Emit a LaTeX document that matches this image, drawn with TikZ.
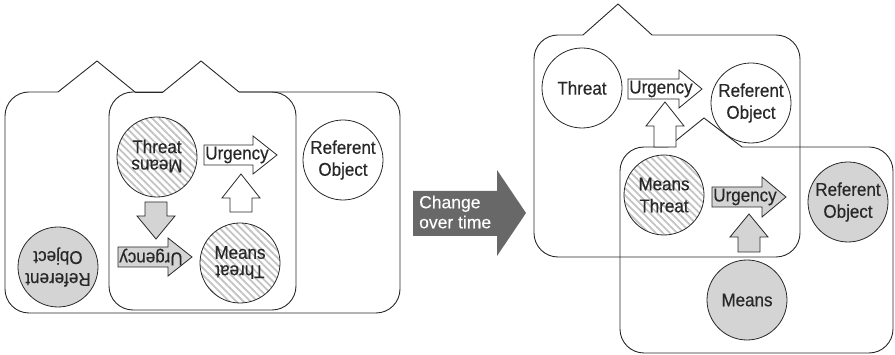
\documentclass[tikz,border=0pt]{standalone}
\usepackage{fontspec}
\setmainfont{Liberation Sans}[FakeStretch=0.92,FakeBold=0.35]
\newfontfamily\plainsans{Liberation Sans}[FakeBold=0.25]
\usetikzlibrary{patterns.meta}
\definecolor{lgrey}{RGB}{212,212,212}
\definecolor{dgrey}{RGB}{104,104,104}
\definecolor{ink}{RGB}{40,40,40}
\definecolor{hatch}{RGB}{196,196,196}
\newcommand\rblock[7]{\draw[#7] ({#1},{#4-#5}) -- ({#2},{#4-#5}) -- ({#2},{#4-#6}) -- ({#3},{#4}) -- ({#2},{#4+#6}) -- ({#2},{#4+#5}) -- ({#1},{#4+#5}) -- cycle;}
\newcommand\vblock[7]{\draw[#7] ({#1-#5},{#2}) -- ({#1-#5},{#3}) -- ({#1-#6},{#3}) -- ({#1},{#4}) -- ({#1+#6},{#3}) -- ({#1+#5},{#3}) -- ({#1+#5},{#2}) -- cycle;}
\begin{document}
\begin{tikzpicture}[x=1pt,y=-1pt,
  boxline/.style={draw=ink, line width=0.9pt, rounded corners=24pt},
  roofline/.style={draw=ink, line width=0.9pt, line join=miter},
  circ/.style={circle, draw=ink, line width=0.8pt, minimum size=80pt, inner sep=0pt, fill=white},
  greycirc/.style={circle, draw=ink, line width=0.8pt, minimum size=80pt, inner sep=0pt, fill=lgrey},
  hatchcirc/.style={circle, draw=ink, line width=0.8pt, minimum size=80pt, inner sep=0pt,
     preaction={fill=white}, pattern={Lines[angle=-45,distance=5pt,line width=1.8pt]}, pattern color=hatch},
  lbl/.style={font=\fontsize{18.5}{22}\selectfont, text=ink, align=center, inner sep=0pt},
  warrow/.style={draw=ink, line width=0.8pt, fill=white, line join=miter},
  garrow/.style={draw=ink, line width=0.8pt, fill=lgrey, line join=miter},
  bigarrow/.style={fill=dgrey, draw=none},
]
\useasboundingbox (0,0) rectangle (895,355);

% ---------------- left panel ----------------
\draw[boxline] (58,92) -- (5,92) -- (5,313) -- (400,313) -- (400,92) -- (239,92);
\draw[roofline] (135,92) -- (163,92);
\draw[roofline] (58,92) -- (97,61) -- (135,92);
\draw[boxline] (163,92) -- (109,92) -- (109,310) -- (296,310) -- (296,92) -- (239,92);
\draw[roofline] (163,92) -- (201,61) -- (239,92);

\node[hatchcirc] (tmA) at (157,157) {};
\node[lbl] (tmAt) at ([yshift=10.5pt]tmA.center) {Threat};
\node[lbl, rotate=180] (tmAm) at ([yshift=-9pt]tmA.center) {Means};

\rblock{204}{253}{277}{155}{10}{19}{warrow}
\node[lbl] (uA) at (237,155) {Urgency};

\vblock{241}{212}{198}{174}{11}{19}{warrow}
\vblock{156}{202}{216}{239}{11}{19}{garrow}

\rblock{118}{168}{192}{257}{10}{19}{garrow}
\node[lbl, rotate=180] (uB) at (151,257) {Urgency};

\node[hatchcirc] (mtA) at (240,263) {};
\node[lbl] (mtAm) at ([yshift=10.5pt]mtA.center) {Means};
\node[lbl, rotate=180] (mtAt) at ([yshift=-9pt]mtA.center) {Threat};

\node[greycirc] (roA) at (58,267) {};
\node[lbl, rotate=180] (roAt) at (roA.center) {Referent\\Object};

\node[circ] (roB) at (343,160) {};
\node[lbl] (roBt) at (roB.center) {Referent\\Object};

% ---------------- middle arrow ----------------
\draw[bigarrow] (413,191) -- (497,191) -- (497,170) -- (526,213) -- (497,256) -- (497,236) -- (413,236) -- cycle;
\node[font=\plainsans\fontsize{17.5}{20}\selectfont, text=white, align=left, anchor=west, inner sep=0pt] (chg) at (419,212) {Change\\over time};

% ---------------- right panel ----------------
\draw[boxline] (583,35) -- (534,35) -- (534,257) -- (800,257) -- (800,35) -- (652,35);
\draw[roofline] (583,35) -- (618,4) -- (652,35);
\draw[boxline] (668,147) -- (620,147) -- (620,353) -- (893,353) -- (893,147) -- (742,147);
\draw[roofline] (668,147) -- (704,118) -- (742,147);

\node[circ] (thC) at (582,88) {};
\node[lbl] (thCt) at (thC.center) {Threat};

\rblock{628}{679}{702}{89}{10}{19}{warrow}
\node[lbl] (uC) at (661,89) {Urgency};

\node[circ] (roC) at (751,103) {};
\node[lbl] (roCt) at (roC.center) {Referent\\Object};

\vblock{665}{147}{126}{102}{11}{19}{warrow}

\node[hatchcirc] (mtD) at (664,195) {};
\node[lbl] (mtDt) at (mtD.center) {Means\\Threat};

\rblock{712}{762}{786}{197}{10}{20}{garrow}
\node[lbl] (uD) at (745,197) {Urgency};

\node[greycirc] (roD) at (848,202) {};
\node[lbl] (roDt) at (roD.center) {Referent\\Object};

\vblock{749}{252}{237}{214}{11}{19}{garrow}

\node[greycirc] (meE) at (747,300) {};
\node[lbl] (meEt) at (meE.center) {Means};
\end{tikzpicture}
\end{document}
